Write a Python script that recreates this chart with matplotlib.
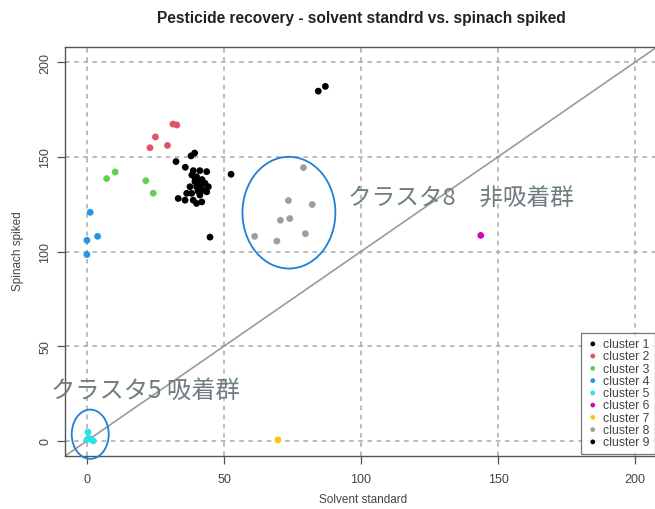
import matplotlib
matplotlib.use("Agg")
import matplotlib.pyplot as plt
from matplotlib.patches import Ellipse

plt.rcParams["font.family"] = ["Liberation Sans", "DejaVu Sans"]

# solvent standard (x) vs spinach spiked (y) recovery, grouped by cluster
c1_x = [32.5, 38.0, 39.3, 35.9, 38.8, 41.2, 43.7, 38.3, 40.0, 52.6, 39.4, 41.2,
        43.1, 44.3, 37.6, 40.0, 42.4, 43.7, 36.4, 38.2, 41.2, 33.3, 35.8, 38.8,
        40.0, 41.9, 44.9, 39.5, 42.0, 40.5, 41.5]
c1_y = [147.5, 150.5, 152.0, 144.5, 142.7, 142.7, 142.2, 140.4, 139.5, 140.8,
        136.9, 136.9, 136.0, 134.2, 134.2, 134.2, 132.4, 131.5, 130.7, 130.7,
        129.8, 128.0, 127.1, 127.1, 125.4, 126.2, 107.6, 138.5, 138.0, 132.0, 134.8]
c2_x = [31.4, 32.8, 25.0, 23.0, 29.4]
c2_y = [167.3, 166.8, 160.5, 154.8, 156.0]
c3_x = [7.2, 10.3, 21.5, 24.2]
c3_y = [138.5, 142.0, 137.4, 130.8]
c4_x = [1.2, 3.9, 0.0, 0.0]
c4_y = [120.7, 108.0, 105.9, 98.4]
c5_x = [0.4, 0.0, 2.3, 1.0]
c5_y = [4.6, 0.6, 0.0, 1.2]
c6_x = [143.7]
c6_y = [108.5]
c7_x = [69.7]
c7_y = [0.5]
c8_x = [79.0, 73.5, 82.2, 70.6, 74.0, 79.7, 61.2, 69.3]
c8_y = [144.3, 126.9, 124.8, 116.5, 117.4, 109.4, 108.0, 105.5]
c9_x = [84.4, 87.0]
c9_y = [184.7, 187.2]

cluster_x = [c1_x, c2_x, c3_x, c4_x, c5_x, c6_x, c7_x, c8_x, c9_x]
cluster_y = [c1_y, c2_y, c3_y, c4_y, c5_y, c6_y, c7_y, c8_y, c9_y]
cluster_labels = ["cluster %d" % i for i in range(1, 10)]
cluster_colors = ["#000000", "#DF536B", "#61D04F", "#2297E6", "#28E2E5",
                  "#CD0BBC", "#F5C710", "#9E9E9E", "#000000"]

ticks = [0, 50, 100, 150, 200]

fig = plt.figure(figsize=(6.55, 5.1), dpi=100)
ax = fig.add_axes([65 / 655, 53 / 510, 592 / 655, 409 / 510])
ax.set_xlim(-8, 208)
ax.set_ylim(-8, 208)

grid_kw = dict(color="#a8a8a8", lw=1.1, dashes=(3, 3), zorder=1)
for t in ticks:
    ax.axvline(t, **grid_kw)
    ax.axhline(t, **grid_kw)

ax.plot([-20, 230], [-20, 230], color="#9a9a9a", lw=1.2, zorder=2)

for xs, ys, col, lab in zip(cluster_x, cluster_y, cluster_colors, cluster_labels):
    ax.scatter(xs, ys, s=24, color=col, edgecolors="none", label=lab, zorder=3)

ax.set_xticks(ticks)
ax.set_yticks(ticks)
ax.tick_params(direction="out", length=6, width=0.9, color="#555555",
               labelcolor="#444444", labelsize=9, pad=6)
ax.tick_params(axis="y", pad=4)
for lab in ax.get_yticklabels():
    lab.set_rotation(90)
    lab.set_va("center")
for sp in ax.spines.values():
    sp.set_color("#555555")
    sp.set_linewidth(1.0)

fig.text(0.554, 1 - 500 / 510, "Solvent standard", fontsize=8.5, color="#444444",
         ha="center", va="center")
fig.text(18 / 655, 1 - 251 / 510, "Spinach spiked", fontsize=8.5, color="#444444",
         ha="center", va="center", rotation=90)
fig.text(0.551, 1 - 18 / 510, "Pesticide recovery - solvent standrd vs. spinach spiked",
         ha="center", va="center", fontsize=11.2, fontweight="bold", color="#222222")

leg = ax.legend(loc="lower right", fontsize=8.8, frameon=True, fancybox=False,
                edgecolor="#555555", borderaxespad=0.2, handletextpad=0.25,
                labelspacing=0.02, borderpad=0.45, handlelength=1.1,
                markerscale=0.7)
leg.get_frame().set_linewidth(0.9)
for t in leg.get_texts():
    t.set_color("#444444")

# highlight circles and notes
ring = "#1f7fd6"
ax.add_patch(Ellipse((73.7, 120.5), 33.9, 59, fill=False, ec=ring, lw=1.3, zorder=4))
ax.add_patch(Ellipse((1.2, 3.5), 13.5, 26, fill=False, ec=ring, lw=1.3, zorder=4,
                     clip_on=False))

jp = ["Noto Sans CJK JP", "DejaVu Sans"]
note = "#6e7e80"
ax.text(95.3, 128.2, "クラスタ8\u3000非吸着群", family=jp, fontsize=17, color=note,
        va="center", ha="left", zorder=5)
ax.text(-13.0, 27.1, "クラスタ5 吸着群", family=jp, fontsize=17.5, color=note,
        va="center", ha="left", zorder=5, clip_on=False)

fig.savefig("out.png", dpi=100)
